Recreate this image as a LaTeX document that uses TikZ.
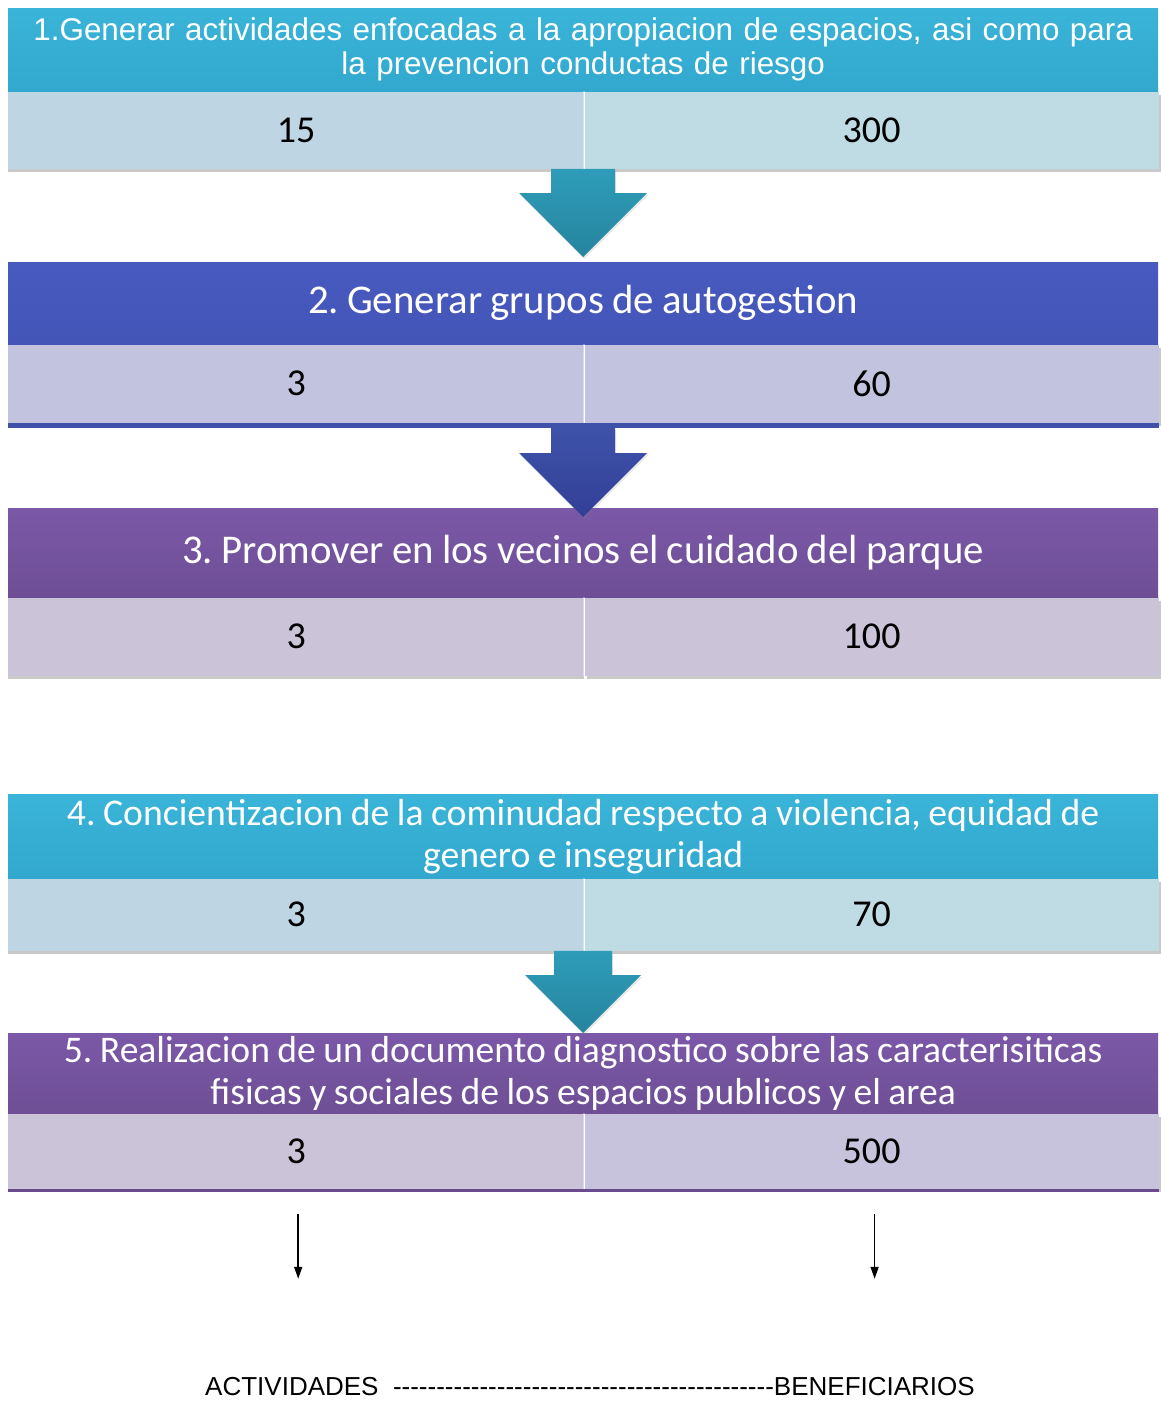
\documentclass[tikz,border=0pt]{standalone}
\usepackage{fontspec}
\setmainfont{Carlito}
\newfontfamily\arialfont{Liberation Sans}[Ligatures=TeXOff]
\usetikzlibrary{positioning,calc,shadows,arrows.meta}
\frenchspacing

\definecolor{cianA}{HTML}{3AB4D8}
\definecolor{cianB}{HTML}{32A8CE}
\definecolor{celesteA}{HTML}{BED5E3}
\definecolor{celesteB}{HTML}{BFDCE5}
\definecolor{azulA}{HTML}{485AC0}
\definecolor{azulB}{HTML}{4455B7}
\definecolor{azulL}{HTML}{3F51A8}
\definecolor{lila}{HTML}{C2C4DF}
\definecolor{moradoA}{HTML}{7B58A8}
\definecolor{moradoB}{HTML}{6E4F95}
\definecolor{moradoL}{HTML}{6A4C8E}
\definecolor{malvaA}{HTML}{CBC3D8}
\definecolor{malvaB}{HTML}{C8C3DC}
\definecolor{tealA}{HTML}{2E9DB9}
\definecolor{tealB}{HTML}{26849E}
\definecolor{indigoA}{HTML}{3E52AA}
\definecolor{indigoB}{HTML}{333F96}

% espacios estrechos en los titulos
\newcommand{\angosto}{\spaceskip=0.2em\relax\xspaceskip=0.2em\relax}

\tikzset{
  cabeza/.style={rectangle, anchor=north west, minimum width=1150pt, minimum height=#1,
    inner sep=0pt, text=white, align=center, text width=1140pt},
  celda/.style={rectangle, anchor=north west, minimum height=#1, inner sep=0pt,
    font=\fontsize{38}{40}\selectfont},
  sombraA/.style={drop shadow={shadow xshift=0pt, shadow yshift=-3pt, opacity=0.3, fill=black!70}},
  sombraB/.style={drop shadow={shadow xshift=2pt, shadow yshift=-3pt, opacity=0.3, fill=black!70}},
  separa/.style={white, opacity=0.35, line width=2pt},
  flechaTeal/.style={top color=tealA, bottom color=tealB,
    drop shadow={shadow xshift=1pt, shadow yshift=-2pt, opacity=0.2}},
  flechaAzul/.style={top color=indigoA, bottom color=indigoB,
    drop shadow={shadow xshift=1pt, shadow yshift=-2pt, opacity=0.2}},
  flechita/.style={-{Triangle[length=12pt,width=8pt]}, line width=1.5pt},
}

% flecha gruesa: estilo, inicio, punta, media anchura del tallo
\newcommand{\flechon}[4]{%
  \shade[#1] ($(#2)+(-#4,0)$) -- ($(#2)+(#4,0)$) -- ($(#3)+(#4,-2*#4)$)
    -- ($(#3)+(2*#4,-2*#4)$) -- (#3) -- ($(#3)+(-2*#4,-2*#4)$)
    -- ($(#3)+(-#4,-2*#4)$) -- cycle;}

\begin{document}
\begin{tikzpicture}[x=1pt,y=-1pt]
  \useasboundingbox (0,0) rectangle (1160,1401);

  % bloque 1
  \node[cabeza=83pt, top color=cianA, bottom color=cianB,
    font=\arialfont\fontsize{31.4}{34}\selectfont] (h1) at (8,8)
    {1.Generar actividades enfocadas a la apropiacion de espacios, asi como para\\la prevencion  conductas  de riesgo};
  \node[celda=77pt, minimum width=576pt, fill=celesteA, sombraA] (a1) at (h1.south west) {15};
  \node[celda=77pt, minimum width=574pt, fill=celesteB, sombraB] (b1) at (a1.north east) {300};
  \draw[separa] (a1.north east) -- (a1.south east);

  % bloque 2
  \node[cabeza=82pt, top color=azulA, bottom color=azulB,
    font=\fontsize{40.8}{42}\selectfont] (h2) at (8,262) {\angosto 2. Generar grupos de autogestion};
  \node[celda=78pt, minimum width=576pt, fill=lila, sombraA] (a2) at (h2.south west) {3};
  \node[celda=78pt, minimum width=574pt, fill=lila, sombraB] (b2) at (a2.north east) {60};
  \draw[separa] (a2.north east) -- (a2.south east);
  \fill[azulL] (a2.south west) rectangle ($(b2.south east)+(0,5)$);

  % bloque 3
  \node[cabeza=89pt, top color=moradoA, bottom color=moradoB,
    font=\fontsize{40.8}{42}\selectfont] (h3) at (8,508) {\angosto 3. Promover en los vecinos el cuidado del parque};
  \node[celda=78pt, minimum width=576pt, fill=malvaA, sombraA] (a3) at (h3.south west) {3};
  \node[celda=78pt, minimum width=574pt, fill=malvaA, sombraB] (b3) at (a3.north east) {100};
  \draw[separa] (a3.north east) -- (a3.south east);

  % bloque 4
  \node[cabeza=84pt, top color=cianA, bottom color=cianB,
    font=\fontsize{37.7}{42}\selectfont] (h4) at (8,794)
    {\angosto 4. Concientizacion de la cominudad respecto a violencia, equidad de\\genero e inseguridad};
  \node[celda=72pt, minimum width=576pt, fill=celesteA, sombraA] (a4) at (h4.south west) {3};
  \node[celda=72pt, minimum width=574pt, fill=celesteB, sombraB] (b4) at (a4.north east) {70};
  \draw[separa] (a4.north east) -- (a4.south east);

  % bloque 5
  \node[cabeza=80pt, top color=moradoA, bottom color=moradoB,
    font=\fontsize{37.6}{42}\selectfont] (h5) at (8,1033)
    {\angosto 5. Realizacion de un documento diagnostico sobre las caracterisiticas\\fisicas y sociales de los espacios publicos y el area};
  \node[celda=75pt, minimum width=576pt, fill=malvaA, sombraA] (a5) at (h5.south west) {3};
  \node[celda=75pt, minimum width=574pt, fill=malvaB, sombraB] (b5) at (a5.north east) {500};
  \draw[separa] (a5.north east) -- (a5.south east);
  \fill[moradoL] (a5.south west) rectangle ($(b5.south east)+(0,3)$);

  % flechas gruesas
  \coordinate (p1) at (h1.center |- a1.south);
  \coordinate (q1) at ($(h2.north)+(0,-5)$);
  \coordinate (p2) at ($(h2.center |- a2.south)+(0,5)$);
  \coordinate (q2) at ($(h3.north)+(0,9)$);
  \coordinate (p3) at (h4.center |- a4.south);
  \coordinate (q3) at (h5.north);
  \flechon{flechaTeal}{p1}{q1}{32}
  \flechon{flechaAzul}{p2}{q2}{32}
  \flechon{flechaTeal}{p3}{q3}{29}

  % flechas finas
  \coordinate (fa1) at ($(a5.south)+(2,25)$);
  \coordinate (fa2) at ($(a5.south)+(2,90)$);
  \coordinate (fb1) at ($(b5.south)+(3,25)$);
  \coordinate (fb2) at ($(b5.south)+(3,90)$);
  \draw[flechita] (fa1) -- (fa2);
  \draw[flechita] (fb1) -- (fb2);

  % leyenda
  \node[font=\arialfont\fontsize{26}{28}\selectfont] (leyenda) at (590,1387)
    {ACTIVIDADES\ \ --------------------------------------------BENEFICIARIOS};
\end{tikzpicture}
\end{document}
